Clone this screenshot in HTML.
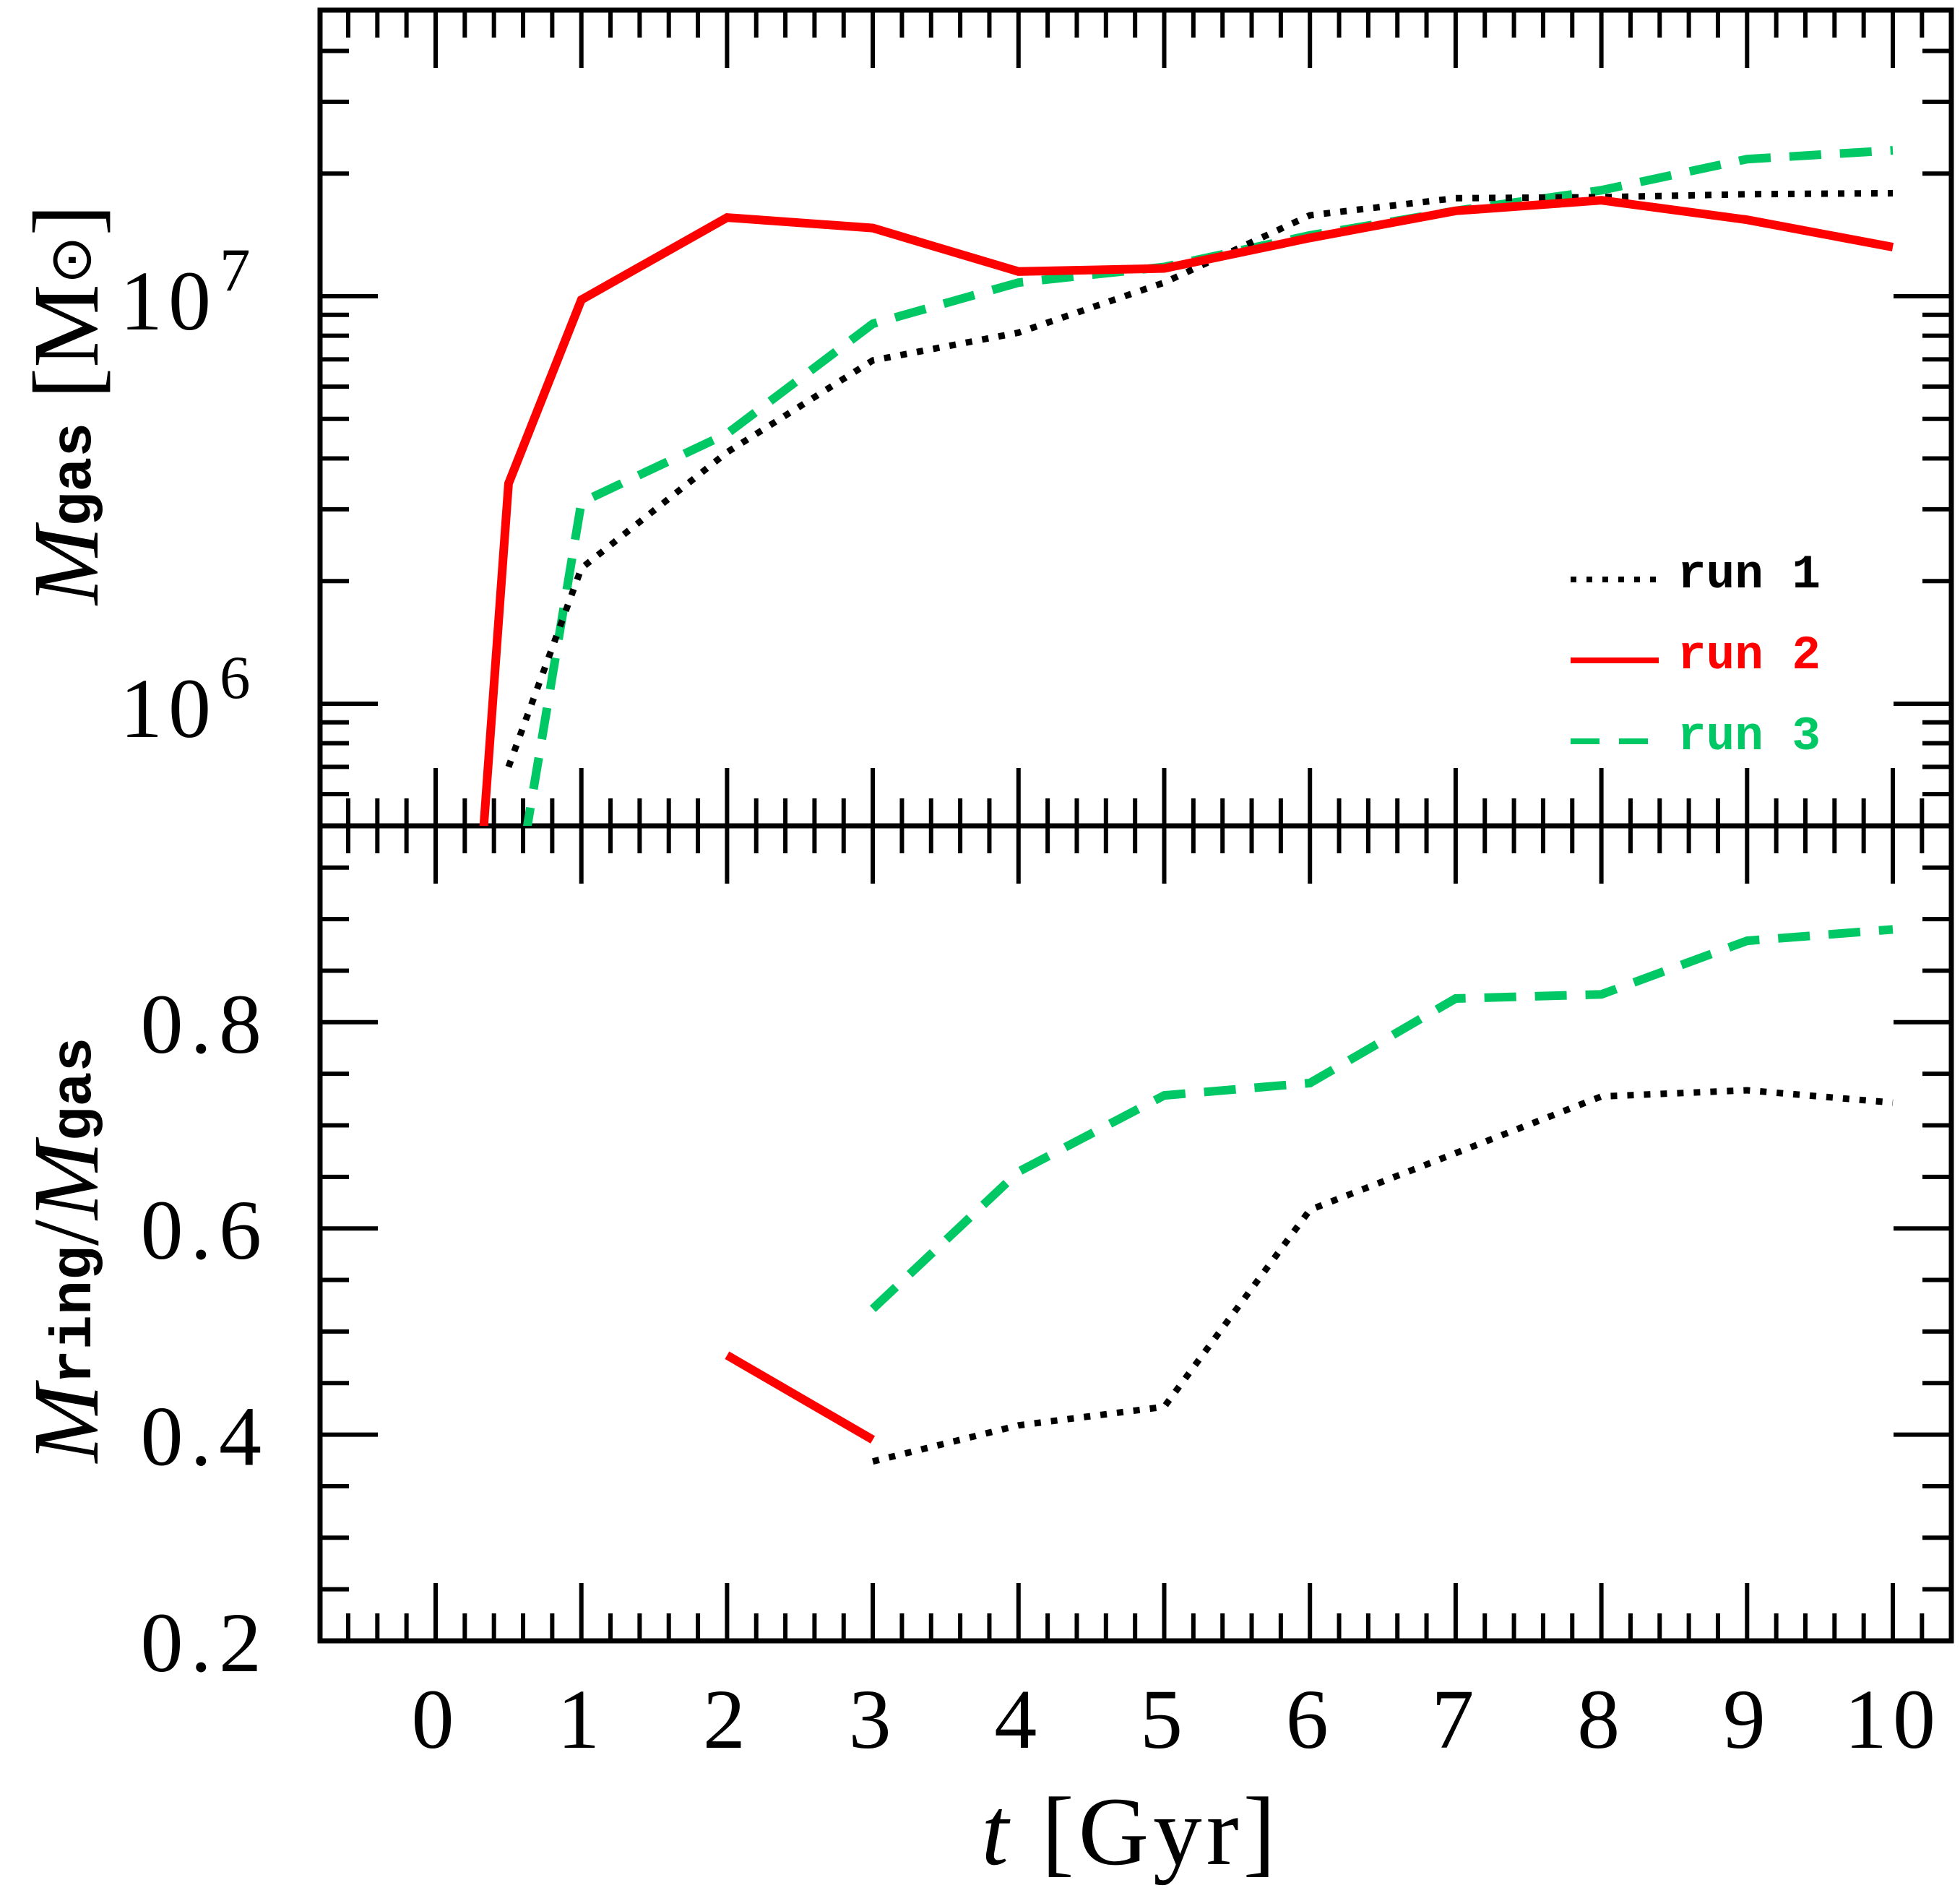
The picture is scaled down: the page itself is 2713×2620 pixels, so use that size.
<!DOCTYPE html>
<html><head><meta charset="utf-8">
<style>
html,body{margin:0;padding:0;background:#fff;}
svg{display:block;}
text{font-family:"Liberation Serif",serif;}
</style></head>
<body>
<svg id="chart" width="2713" height="2620" viewBox="0 0 2713 2620" xmlns="http://www.w3.org/2000/svg">
<defs>
<clipPath id="clipTop"><rect x="443" y="14" width="2258" height="1129"/></clipPath>
<clipPath id="clipBot"><rect x="443" y="1143" width="2258" height="1128"/></clipPath>
</defs>
<g id="axes"></g>
<g id="series"></g>
<g>
<text x="1565" y="2580" font-size="135" text-anchor="middle" letter-spacing="6"><tspan font-style="italic">t</tspan>  [Gyr]</text>
</g>
<g transform="translate(135,560) rotate(-90)">
<text x="0" y="0" font-size="130" text-anchor="middle"><tspan font-style="italic">M</tspan><tspan font-size="80" dy="-10" font-family="Liberation Mono,monospace" font-weight="bold">gas</tspan><tspan dy="10">  [M</tspan><tspan font-size="80" dy="-10">⊙</tspan><tspan dy="10">]</tspan></text>
</g>
<g transform="translate(135,1730) rotate(-90)">
<text x="0" y="0" font-size="130" text-anchor="middle"><tspan font-style="italic">M</tspan><tspan font-size="80" dy="-10" font-family="Liberation Mono,monospace" font-weight="bold">ring</tspan><tspan dy="10">/</tspan><tspan font-style="italic">M</tspan><tspan font-size="80" dy="-10" font-family="Liberation Mono,monospace" font-weight="bold">gas</tspan></text>
</g>
<g>
<g>
<line x1="2174" y1="802" x2="2296" y2="802" stroke="#000" stroke-width="8" stroke-dasharray="8,14"/>
<text x="2322" y="813" font-size="66" font-weight="bold" fill="#000" style="font-family:'Liberation Mono',monospace">run 1</text>
</g>
<g>
<line x1="2174" y1="914" x2="2296" y2="914" stroke="#ff0000" stroke-width="8"/>
<text x="2322" y="925" font-size="66" font-weight="bold" fill="#ff0000" style="font-family:'Liberation Mono',monospace">run 2</text>
</g>
<g>
<line x1="2174" y1="1026" x2="2296" y2="1026" stroke="#00c864" stroke-width="8" stroke-dasharray="40,27"/>
<text x="2322" y="1037" font-size="66" font-weight="bold" fill="#00c864" style="font-family:'Liberation Mono',monospace">run 3</text>
</g>
</g>
</svg>
<script>
// ---- data ----
var run1TopT = [0.5, 1, 2, 3, 4, 5, 6, 7, 8, 9, 10];
var run1TopM = [7.0e5, 2.15e6, 4.14e6, 6.96e6, 8.14e6, 1.08e7, 1.58e7, 1.74e7, 1.75e7, 1.78e7, 1.79e7];
var run2TopT = [0.25, 0.5, 1, 2, 3, 4, 5, 6, 7, 8, 9, 10];
var run2TopM = [2.0e5, 3.47e6, 9.8e6, 1.56e7, 1.47e7, 1.15e7, 1.17e7, 1.39e7, 1.62e7, 1.72e7, 1.54e7, 1.32e7];
var run3TopT = [0.5, 1, 2, 3, 4, 5, 6, 7, 8, 9, 10];
var run3TopM = [2.65e5, 3.12e6, 4.6e6, 8.56e6, 1.08e7, 1.18e7, 1.41e7, 1.62e7, 1.82e7, 2.17e7, 2.28e7];
var run1BotT = [3, 4, 5, 6, 7, 8, 9, 10];
var run1BotF = [0.374, 0.409, 0.427, 0.618, 0.673, 0.728, 0.734, 0.722];
var run2BotT = [2, 3];
var run2BotF = [0.477, 0.395];
var run3BotT = [3, 4, 5, 6, 7, 8, 9, 10];
var run3BotF = [0.522, 0.655, 0.729, 0.741, 0.823, 0.827, 0.879, 0.890];
var xTickLabels = ["0","1","2","3","4","5","6","7","8","9","10"];
var yBotTickLabels = ["0.2","0.4","0.6","0.8"];
var yTopDecades = [6, 7];

// ---- axis functions ----
var L=443, R=2701, T=14, MID=1143, B=2271;
function xs(t){ return 603 + 201.7*t; }
function ysTop(m){ return 410 - (Math.log10(m) - 7) * 564; }
function ysBot(f){ return 2271 - (f - 0.2) * 1427; }

var NS="http://www.w3.org/2000/svg";
var axes=document.getElementById('axes');
var series=document.getElementById('series');
function mk(tag, attrs, parent){
  var e=document.createElementNS(NS,tag);
  for(var k in attrs) e.setAttribute(k, attrs[k]);
  parent.appendChild(e); return e;
}
function ln(x1,y1,x2,y2,w,parent){ return mk('line',{x1:x1,y1:y1,x2:x2,y2:y2,stroke:'#000','stroke-width':w},parent); }

var f1=mk('rect',{x:L,y:T,width:R-L,height:MID-T,fill:'none',stroke:'#000','stroke-width':7},axes);


var f2=mk('rect',{x:L,y:MID,width:R-L,height:B-MID,fill:'none',stroke:'#000','stroke-width':7},axes);



for(var i=-3;i<=52;i++){
  var t=i*0.2; var x=xs(t);
  if(x<=L+3||x>=R-3) continue;
  var major=(i%5===0); var len=major?80:38;
  ln(x,T,x,T+len,6,axes); ln(x,MID,x,MID-len,6,axes);
  ln(x,MID,x,MID+len,6,axes); ln(x,B,x,B-len,6,axes);
}
for(var j=0;j<xTickLabels.length;j++){
  var tx=mk('text',{x:xs(j),y:2419,'font-size':118,'text-anchor':'middle','letter-spacing':8},axes);
  tx.textContent=xTickLabels[j];
  
  
}
for(var d=5; d<=7; d++){
  for(var k=1;k<=9;k++){
    var m=k*Math.pow(10,d); var y=ysTop(m);
    if(y<T+3||y>MID-3) continue;
    var len=(k===1)?80:40;
    ln(L,y,L+len,y,6,axes); ln(R,y,R-len,y,6,axes);
  }
}
for(var j=0;j<yTopDecades.length;j++){
  var y=ysTop(Math.pow(10,yTopDecades[j]));
  var tt=mk('text',{x:300,y:y+46,'font-size':118,'text-anchor':'end','letter-spacing':8},axes);
  tt.textContent='10';
  
  
  var sp=mk('text',{x:304,y:y-8,'font-size':85,'text-anchor':'start'},axes);
  sp.textContent=String(yTopDecades[j]);
  
  
}
for(var i=4;i<=20;i++){
  var f=i*0.05; var y=ysBot(f);
  if(y<MID+3||y>B-3) continue;
  var len=(i%4===0)?80:40;
  ln(L,y,L+len,y,6,axes); ln(R,y,R-len,y,6,axes);
}
for(var j=0;j<yBotTickLabels.length;j++){
  var v=parseFloat(yBotTickLabels[j]);
  var bt=mk('text',{x:372,y:ysBot(v)+42,'font-size':118,'text-anchor':'end','letter-spacing':10},axes);
  bt.textContent=yBotTickLabels[j];
  
  
}

function path(ts,vs,yf){
  var d='';
  for(var i=0;i<ts.length;i++) d+=(i?'L':'M')+xs(ts[i]).toFixed(1)+','+yf(vs[i]).toFixed(1);
  return d;
}
var styles={
  black:{stroke:'#000','stroke-width':9,'stroke-dasharray':'9,14',fill:'none'},
  red:{stroke:'#ff0000','stroke-width':12,fill:'none','stroke-linejoin':'miter'},
  green:{stroke:'#00c864','stroke-width':12,'stroke-dasharray':'44,26',fill:'none'}
};
function addSeries(ts,vs,yf,st,clip,name){
  var a={d:path(ts,vs,yf),'clip-path':'url(#'+clip+')'};
  for(var k in styles[st]) a[k]=styles[st][k];
  var p=mk('path',a,series);
  
  
}
addSeries(run3TopT,run3TopM,ysTop,'green','clipTop','run-3-gas-mass-line');
addSeries(run1TopT,run1TopM,ysTop,'black','clipTop','run-1-gas-mass-line');
addSeries(run2TopT,run2TopM,ysTop,'red','clipTop','run-2-gas-mass-line');
addSeries(run3BotT,run3BotF,ysBot,'green','clipBot','run-3-ring-fraction-line');
addSeries(run1BotT,run1BotF,ysBot,'black','clipBot','run-1-ring-fraction-line');
addSeries(run2BotT,run2BotF,ysBot,'red','clipBot','run-2-ring-fraction-line');
</script>
</body></html>
